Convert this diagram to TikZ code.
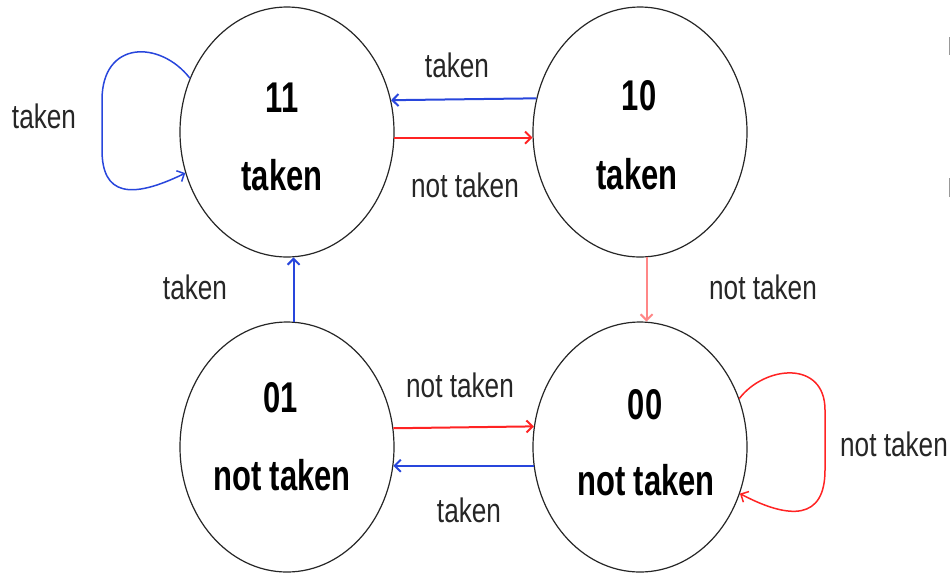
\documentclass[tikz,border=0pt]{standalone}
\usepackage{fontspec}
\usetikzlibrary{arrows.meta,shapes.geometric}
\newfontfamily\statefont[FakeStretch=0.72]{Liberation Sans}
\newfontfamily\edgefont[FakeStretch=0.77]{Liberation Sans}
\definecolor{edgeblue}{RGB}{40,70,220}
\definecolor{edgered}{RGB}{255,35,35}
\definecolor{edgepink}{RGB}{255,135,135}
\begin{document}
\begin{tikzpicture}[x=1pt,y=-1pt,
  state/.style={ellipse,draw=black!85,line width=1.2pt,fill=white,
    minimum width=214pt,minimum height=250pt,inner sep=0pt},
  statetext/.style={anchor=base,inner sep=0pt,
    font=\statefont\bfseries\fontsize{43}{43}\selectfont},
  edgetext/.style={anchor=base,inner sep=0pt,text=black!85,
    font=\edgefont\fontsize{34}{34}\selectfont},
  tip/.style={-{Straight Barb[length=6pt,width=12pt]}},
  bluearrow/.style={tip,draw=edgeblue,line width=2pt},
  redarrow/.style={tip,draw=edgered,line width=2pt},
  loopblue/.style={tip,draw=edgeblue,line width=1.5pt},
  loopred/.style={tip,draw=edgered,line width=1.5pt}]
\useasboundingbox (0,0) rectangle (950,574);

% the four predictor states
\node[state] (n11) at (287,132) {};
\node[state] (n10) at (640,132) {};
\node[state] (n01) at (287,447) {};
\node[state] (n00) at (640,447) {};

\node[statetext] (s11a) at (282,112) {11};
\node[statetext] (s11b) at (282,190) {taken};
\node[statetext] (s10a) at (639,110) {10};
\node[statetext] (s10b) at (637,189) {taken};
\node[statetext] (s01a) at (281,412) {01};
\node[statetext] (s01b) at (282,490) {not taken};
\node[statetext] (s00a) at (645,419) {00};
\node[statetext] (s00b) at (646,495) {not taken};

% transitions between states
\draw[bluearrow] (n10.162.8) -- (n11.17.2);
\draw[redarrow] (n11.-3.2) -- (n10.183.2);
\draw[redarrow] (n01.10.7) -- (n00.169.3);
\draw[bluearrow] (n00.190.7) -- (n01.-10.7);
\draw[bluearrow] (n01.87.7) -- (n11.-87.7);
\draw[tip,draw=edgepink,line width=2pt] (n10.-87.7) -- (n00.87.7);

% self loops
\draw[loopblue] (n11.151) .. controls (160,40) and (102,40) .. (102,100)
  -- (102,150) .. controls (102,195) and (130,200) .. (n11.202);
\draw[loopred] (n00.26) .. controls (765,365) and (825,360) .. (825,410)
  -- (825,470) .. controls (825,520) and (790,520) .. (n00.-25.6);

% transition labels
\node[edgetext] (e1) at (44,128) {taken};
\node[edgetext] (e2) at (457,77) {taken};
\node[edgetext] (e3) at (465,197) {not taken};
\node[edgetext] (e4) at (195,299) {taken};
\node[edgetext] (e5) at (763,299) {not taken};
\node[edgetext] (e6) at (460,397) {not taken};
\node[edgetext] (e7) at (469,522) {taken};
\node[edgetext] (e8) at (894,456) {not taken};

% small marks at the right edge
\draw[black!40,line width=1pt] (949,37) -- (949,55);
\draw[black!40,line width=1pt] (949,178) -- (949,197);
\end{tikzpicture}
\end{document}
